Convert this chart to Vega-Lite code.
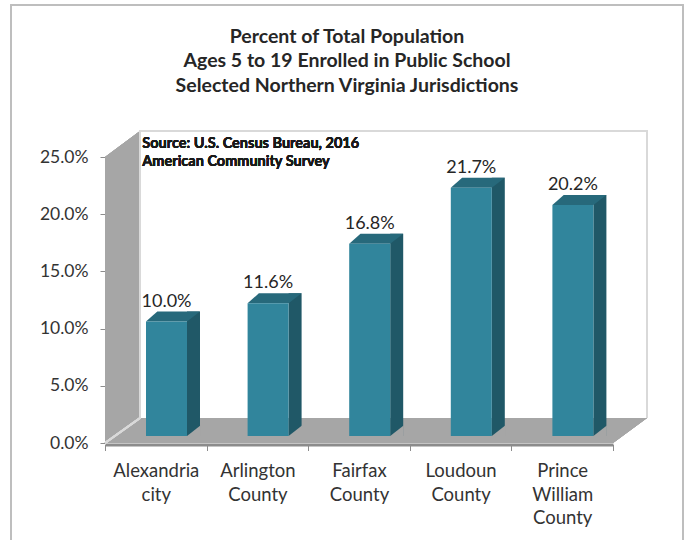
{
  "$schema": "https://vega.github.io/schema/vega-lite/v6.json",
  "width": 508,
  "height": 286,
  "autosize": {"type": "none"},
  "padding": {"left": 105, "top": 157, "right": 73, "bottom": 97},
  "background": "white",
  "config": {
    "view": {"stroke": null},
    "font": "Lato",
    "axisX": {
      "title": null,
      "labelAngle": 0,
      "labelFont": "Lato",
      "labelFontSize": 18.5,
      "labelColor": "#333333",
      "labelLineHeight": 23.5,
      "labelPadding": 11,
      "labelExpr": "split(datum.label, ' ')",
      "domainColor": "#8c8c8c",
      "domainWidth": 3,
      "offset": 1.5,
      "tickColor": "#8c8c8c",
      "tickSize": 6,
      "tickBand": "extent",
      "grid": false
    },
    "axisY": {
      "title": null,
      "labelFont": "Lato",
      "labelFontSize": 17.5,
      "labelColor": "#333333",
      "labelPadding": 12,
      "format": ".1%",
      "domainColor": "#bfbfbf",
      "tickColor": "#8c8c8c",
      "tickSize": 5,
      "grid": false
    }
  },
  "title": {
    "text": ["Percent of Total Population", "Ages 5 to 19 Enrolled in Public School", "Selected Northern Virginia Jurisdictions"],
    "font": "Lato",
    "fontSize": 19.5,
    "fontWeight": "bold",
    "color": "#262626",
    "lineHeight": 24.5,
    "anchor": "middle",
    "frame": "group",
    "dx": -12,
    "offset": -94
  },
  "data": {
    "values": [
      {"jurisdiction": "Alexandria city", "pct": 0.100},
      {"jurisdiction": "Arlington County", "pct": 0.116},
      {"jurisdiction": "Fairfax County", "pct": 0.168},
      {"jurisdiction": "Loudoun County", "pct": 0.217},
      {"jurisdiction": "Prince William County", "pct": 0.202}
    ]
  },
  "encoding": {
    "x": {
      "field": "jurisdiction",
      "type": "nominal",
      "sort": null,
      "title": null,
      "scale": {
        "domain": ["Alexandria city", "Arlington County", "Fairfax County", "Loudoun County", "Prince William County"],
        "paddingInner": 0,
        "paddingOuter": 0
      }
    }
  },
  "layer": [
    {
      "mark": {"type": "point", "filled": false, "size": 4, "opacity": 1, "stroke": "#bfbfbf", "strokeWidth": 1.5,
        "shape": "M-144.8,102 L-144.8,-438 L527.2,-438 L527.2,102"},
      "encoding": {
        "x": {"datum": "Alexandria city", "type": "nominal"},
        "y": {"datum": 0, "type": "quantitative", "scale": {"domain": [0, 0.25], "nice": false}, "title": null}
      }
    },
    {
      "mark": {"type": "point", "filled": true, "size": 4, "opacity": 1, "fill": "#a6a6a6", "strokeWidth": 0,
        "shape": "M-50.8,0 L-50.8,-286 L-15.8,-312 L-15.8,-25 L491.2,-25 L457.2,0 Z"},
      "encoding": {
        "x": {"datum": "Alexandria city", "type": "nominal"},
        "y": {"datum": 0, "type": "quantitative", "title": null}
      }
    },
    {
      "mark": {"type": "point", "filled": false, "size": 4, "opacity": 1, "stroke": "#d9d9d9", "strokeWidth": 2,
        "shape": "M-50.8,0 L-15.8,-25 L-15.8,-312 L491.2,-312 L491.2,-25"},
      "encoding": {
        "x": {"datum": "Alexandria city", "type": "nominal"},
        "y": {"datum": 0, "type": "quantitative", "title": null}
      }
    },
    {
      "mark": {"type": "text", "font": "Lato", "fontSize": 14.5, "fontWeight": "bold", "color": "#1a1a1a", "align": "left", "baseline": "alphabetic", "lineHeight": 17.5, "xOffset": -13.5, "dy": -9},
      "encoding": {
        "x": {"datum": "Alexandria city", "type": "nominal"},
        "y": {"datum": 0.25, "type": "quantitative", "title": null},
        "text": {"value": ["Source: U.S. Census Bureau, 2016", "American Community Survey"]}
      }
    },
    {
      "mark": {"type": "bar", "width": 13, "xOffset": 37.7, "yOffset": -17, "y2Offset": -7, "color": "#205867"},
      "encoding": {
        "y": {"field": "pct", "type": "quantitative", "title": null},
        "y2": {"datum": 0}
      }
    },
    {
      "mark": {"type": "point", "filled": true, "size": 4, "opacity": 1, "fill": "#a6a6a6", "strokeWidth": 0,
        "shape": "M31.2,-7 L44.6,-17.4 L44.6,-7 Z"},
      "encoding": {
        "y": {"datum": 0, "type": "quantitative", "title": null}
      }
    },
    {
      "mark": {"type": "point", "filled": true, "size": 4, "opacity": 1, "fill": "#27697b", "strokeWidth": 0,
        "shape": "M-9.8,-7 L31.2,-7 L44.2,-17 L1.5,-17 Z"},
      "encoding": {
        "y": {"field": "pct", "type": "quantitative", "title": null}
      }
    },
    {
      "mark": {"type": "bar", "width": 41, "xOffset": 10.7, "yOffset": -7, "y2Offset": -7, "color": "#31859c"},
      "encoding": {
        "y": {
          "field": "pct",
          "type": "quantitative",
          "title": null,
          "axis": {"values": [0, 0.05, 0.1, 0.15, 0.2, 0.25], "format": ".1%"}
        },
        "y2": {"datum": 0}
      }
    },
    {
      "mark": {"type": "text", "font": "Lato", "fontSize": 18, "color": "#262626", "xOffset": 10.7, "dy": -22, "baseline": "alphabetic", "align": "center"},
      "encoding": {
        "y": {"field": "pct", "type": "quantitative", "title": null},
        "text": {"field": "pct", "type": "quantitative", "format": ".1%"}
      }
    }
  ]
}
